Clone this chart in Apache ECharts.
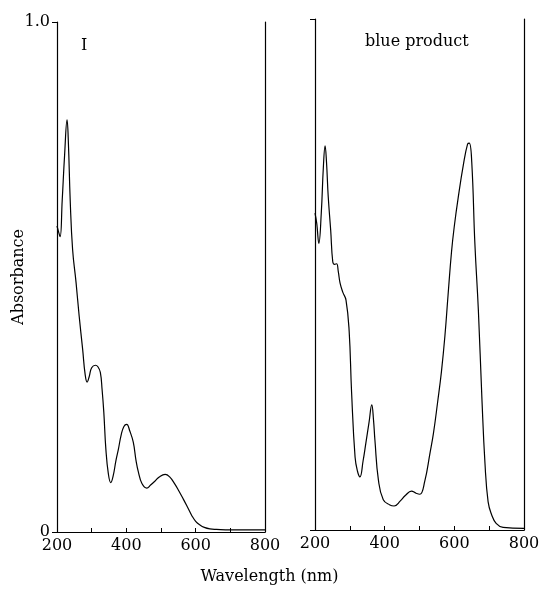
<!DOCTYPE html>
<html>
<head>
<meta charset="utf-8">
<script src="https://cdn.jsdelivr.net/npm/echarts@6/dist/echarts.min.js"></script>
<style>
html,body{margin:0;padding:0;background:#fff;}
#chart{width:539px;height:589px;}
</style>
</head>
<body>
<div id="chart"></div>
<script>
// ---- data ----
const panelLabels = ['I', 'blue product'];
const xAxisTitle = 'Wavelength (nm)';
const yAxisTitle = 'Absorbance';
const xTickLabels = [200, 400, 600, 800];
const yTickLabels = {0: '0', 1: '1.0'};

const wavelengthI = [200,204,209,215,222,229,233,238,245,255,264,274,281,287,293,300,311,318,325,330,335,341,348,355,362,370,377,385,393,401,410,420,428,435,445,459,470,483,495,512,525,540,552,564,577,589,600,612,625,641,660,700,800];
const absorbanceI = [0.600,0.590,0.579,0.650,0.740,0.808,0.760,0.652,0.554,0.489,0.423,0.358,0.310,0.294,0.305,0.322,0.327,0.324,0.313,0.280,0.235,0.162,0.115,0.097,0.110,0.140,0.162,0.190,0.207,0.211,0.198,0.176,0.140,0.117,0.095,0.086,0.092,0.100,0.108,0.113,0.108,0.094,0.080,0.065,0.048,0.032,0.021,0.014,0.009,0.006,0.005,0.004,0.004];

const wavelengthBlue = [200,205,211,218,224,229,233,238,245,251,256,262,267,272,280,289,298,305,315,322,329,338,346,355,363,368,372,382,396,415,427,445,460,477,490,501,515,530,540,552,563,573,582,592,600,611,626,638,643,650,659,669,679,688,697,707,720,740,800];
const absorbanceBlue = [0.620,0.600,0.561,0.620,0.710,0.752,0.720,0.652,0.587,0.525,0.520,0.521,0.505,0.483,0.465,0.450,0.390,0.270,0.143,0.115,0.104,0.135,0.170,0.210,0.245,0.215,0.176,0.098,0.059,0.049,0.047,0.057,0.068,0.076,0.072,0.070,0.095,0.150,0.189,0.250,0.310,0.380,0.460,0.545,0.595,0.650,0.715,0.755,0.757,0.720,0.560,0.430,0.260,0.130,0.055,0.030,0.013,0.005,0.003];

// ---- chart ----
const FONT = "'DejaVu Serif','Liberation Serif',serif";
const chart = echarts.init(document.getElementById('chart'), null, {renderer: 'canvas'});

function pairs(xs, ys){ return xs.map((x,i)=>[x, ys[i]]); }

function xAxisCfg(gridIndex){
  return {
    type: 'value', gridIndex, min: 200, max: 800, interval: 200,
    axisLine: {show: true, lineStyle: {color: '#000', width: 1.2}},
    axisTick: {show: true, inside: true, length: 4, lineStyle: {color: '#000'}},
    minorTick: {show: true, splitNumber: 2, length: 4, lineStyle: {color: '#000'}},
    splitLine: {show: false},
    axisLabel: {
      color: '#000', fontFamily: FONT, fontSize: 16, margin: 6,
      formatter: v => xTickLabels.includes(v) ? String(v) : ''
    }
  };
}
function yAxisCfg(gridIndex, showLabels){
  return {
    type: 'value', gridIndex, min: 0, max: 1, interval: 1,
    axisLine: {show: true, onZero: false, lineStyle: {color: '#000', width: 1.2}},
    axisTick: {show: true, inside: false, length: 5, lineStyle: {color: '#000'}},
    splitLine: {show: false},
    axisLabel: {
      show: showLabels, color: '#000', fontFamily: FONT, fontSize: 16, margin: 7,
      formatter: v => yTickLabels[v] !== undefined ? yTickLabels[v] : ''
    }
  };
}
function rightLineCfg(gridIndex){
  return {
    type: 'value', gridIndex, position: 'right', min: 0, max: 1,
    axisLine: {show: true, onZero: false, lineStyle: {color: '#000', width: 1.2}},
    axisTick: {show: false}, axisLabel: {show: false}, splitLine: {show: false}
  };
}

const option = {
  backgroundColor: '#fff',
  animation: false,
  grid: [
    {left: 57, top: 22, width: 208, height: 510, containLabel: false, outerBoundsMode: 'none'},
    {left: 315, top: 19, width: 209, height: 511, containLabel: false, outerBoundsMode: 'none'}
  ],
  xAxis: [xAxisCfg(0), xAxisCfg(1)],
  yAxis: [
    Object.assign(yAxisCfg(0, true), {
      name: yAxisTitle, nameLocation: 'middle', nameGap: 30, nameRotate: 90,
      nameMoveOverlap: false,
      nameTextStyle: {color: '#000', fontFamily: FONT, fontSize: 16}
    }),
    rightLineCfg(0),
    yAxisCfg(1, false),
    rightLineCfg(1)
  ],
  series: [
    {
      type: 'line', xAxisIndex: 0, yAxisIndex: 0,
      data: pairs(wavelengthI, absorbanceI),
      showSymbol: false, smooth: 0.45,
      lineStyle: {color: '#000', width: 1.2}
    },
    {
      type: 'line', xAxisIndex: 1, yAxisIndex: 2,
      data: pairs(wavelengthBlue, absorbanceBlue),
      showSymbol: false, smooth: 0.45,
      lineStyle: {color: '#000', width: 1.2}
    }
  ],
  graphic: [
    {type: 'text', left: 81, top: 38, style: {text: panelLabels[0], font: '16px ' + FONT, fill: '#000'}},
    {type: 'text', left: 365, top: 34, style: {text: panelLabels[1], font: '16px ' + FONT, fill: '#000'}},
    {type: 'text', left: 'center', top: 569, style: {text: xAxisTitle, font: '16px ' + FONT, fill: '#000'}}
  ]
};
chart.setOption(option);
</script>
</body>
</html>
